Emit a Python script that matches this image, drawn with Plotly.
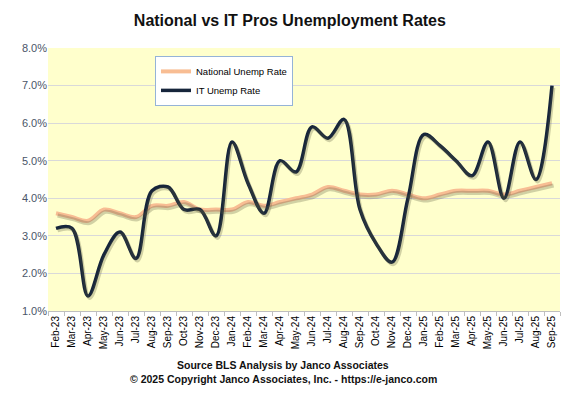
import plotly.graph_objects as go

months = ["Feb-23", "Mar-23", "Apr-23", "May-23", "Jun-23", "Jul-23", "Aug-23", "Sep-23",
          "Oct-23", "Nov-23", "Dec-23", "Jan-24", "Feb-24", "Mar-24", "Apr-24", "May-24",
          "Jun-24", "Jul-24", "Aug-24", "Sep-24", "Oct-24", "Nov-24", "Dec-24", "Jan-25",
          "Feb-25", "Mar-25", "Apr-25", "May-25", "Jun-25", "Jul-25", "Aug-25", "Sep-25"]

national_rate = [3.6, 3.5, 3.4, 3.7, 3.6, 3.5, 3.8, 3.8,
                 3.9, 3.7, 3.7, 3.7, 3.9, 3.8, 3.9, 4.0,
                 4.1, 4.3, 4.2, 4.1, 4.1, 4.2, 4.1, 4.0,
                 4.1, 4.2, 4.2, 4.2, 4.1, 4.2, 4.3, 4.4]

it_rate = [3.2, 3.2, 1.4, 2.5, 3.1, 2.4, 4.2, 4.3,
           3.7, 3.7, 3.0, 5.5, 4.4, 3.6, 5.0, 4.7,
           5.9, 5.6, 6.1, 3.7, 2.8, 2.3, 4.0, 5.7,
           5.4, 5.0, 4.6, 5.5, 4.0, 5.5, 4.5, 7.0]

y_ticks = [1, 2, 3, 4, 5, 6, 7, 8]
y_tick_labels = ["1.0%", "2.0%", "3.0%", "4.0%", "5.0%", "6.0%", "7.0%", "8.0%"]

NAT_COLOR = "#F8BD93"
IT_COLOR = "#16253B"
SHADOW = "rgba(90,90,60,0.28)"
FONT = "Liberation Sans"

fig = go.Figure()

# soft shadows (same data, drawn on slightly shifted overlay axes)
fig.add_trace(go.Scatter(x=months, y=national_rate, mode="lines", line_shape="spline",
                         line=dict(color=SHADOW, width=4), xaxis="x2", yaxis="y2",
                         showlegend=False, hoverinfo="skip"))
fig.add_trace(go.Scatter(x=months, y=it_rate, mode="lines", line_shape="spline",
                         line=dict(color=SHADOW, width=3.5), xaxis="x2", yaxis="y2",
                         showlegend=False, hoverinfo="skip"))

fig.add_trace(go.Scatter(x=months, y=national_rate, mode="lines", name="National Unemp Rate",
                         line_shape="spline", line=dict(color=NAT_COLOR, width=4)))
fig.add_trace(go.Scatter(x=months, y=it_rate, mode="lines", name="IT Unemp Rate",
                         line_shape="spline", line=dict(color=IT_COLOR, width=3.5)))

# page body has an 8px margin, so the figure is sized/offset to compensate
fig.update_layout(
    width=566, height=389,
    margin=dict(l=40, r=14, t=40, b=86),
    paper_bgcolor="white",
    plot_bgcolor="#FFFFCC",
    font=dict(family=FONT, color="#000000"),
    title=dict(text="<b>National vs IT Pros Unemployment Rates</b>",
               x=0.498, xanchor="center", y=0.969, yanchor="middle",
               font=dict(size=16, color="#111111", family=FONT)),
    showlegend=True,
    legend=dict(x=0.209, y=0.97, xanchor="left", yanchor="top",
                bgcolor="white", bordercolor="#95B3D7", borderwidth=1,
                font=dict(size=9.5, color="#000000", family=FONT),
                tracegroupgap=0, itemwidth=30),
    xaxis=dict(type="category", categoryorder="array", categoryarray=months,
               range=[-0.5, 31.5], tickangle=-90, tickson="boundaries",
               ticks="outside", ticklen=4, tickcolor="#BFBFBF",
               showline=True, linecolor="#BFBFBF", linewidth=1,
               showgrid=False, tickfont=dict(size=10, color="#000000"), fixedrange=True),
    yaxis=dict(range=[1, 8], tickvals=y_ticks, ticktext=y_tick_labels,
               showgrid=True, gridcolor="#D9D9D9", gridwidth=1, zeroline=False,
               showline=False, ticks="", tickfont=dict(size=11, color="#4A5568"),
               fixedrange=True),
    xaxis2=dict(type="category", categoryorder="array", categoryarray=months,
                range=[-0.6, 31.4], overlaying="x", visible=False, fixedrange=True),
    yaxis2=dict(range=[1.06, 8.06], overlaying="y", visible=False, fixedrange=True),
)

fig.add_annotation(text="<b>Source BLS Analysis by Janco Associates</b>",
                   xref="paper", yref="paper", x=0.459, y=-0.205,
                   xanchor="center", yanchor="middle", showarrow=False,
                   font=dict(size=10.5, color="#111111", family=FONT))
fig.add_annotation(text="<b>© 2025 Copyright Janco Associates, Inc. - https://e-janco.com</b>",
                   xref="paper", yref="paper", x=0.459, y=-0.259,
                   xanchor="center", yanchor="middle", showarrow=False,
                   font=dict(size=10.5, color="#111111", family=FONT))

fig.write_html("out.html")
